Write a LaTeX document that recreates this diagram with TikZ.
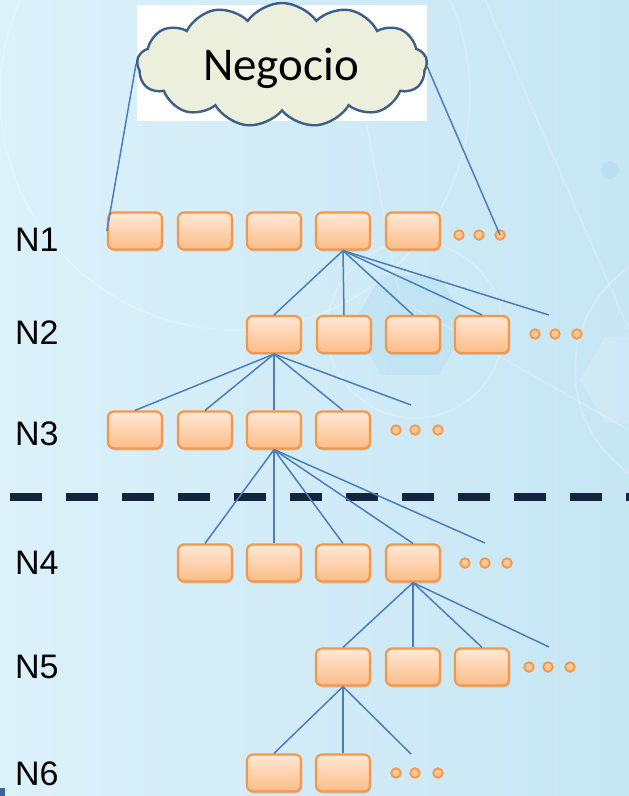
\documentclass[tikz,border=0pt]{standalone}
\usepackage{fontspec}
\setmainfont{Liberation Sans}
\newfontfamily\cloudfont{Carlito}
\usetikzlibrary{shapes.symbols,shapes.geometric,shadows}
\definecolor{bgA}{HTML}{DCF1FA}
\definecolor{bgB}{HTML}{C6E6F4}
\definecolor{boxline}{HTML}{F79646}
\definecolor{boxtop}{HTML}{FFE8D6}
\definecolor{boxbot}{HTML}{FCBD88}
\definecolor{dotfill}{HTML}{FCC896}
\definecolor{conn}{HTML}{4A7EBB}
\definecolor{dashc}{HTML}{13253D}
\definecolor{cloudfill}{HTML}{EBEFDC}
\definecolor{cloudline}{HTML}{3D5E87}
\definecolor{hexc}{HTML}{B3DDF1}
\tikzset{
  x=1pt,y=-1pt,
  boxnode/.style={rectangle,rounded corners=6pt,draw=boxline,line width=2.2pt,
    top color=boxtop,bottom color=boxbot,minimum width=54pt,minimum height=37pt,
    inner sep=0pt,drop shadow={shadow xshift=1pt,shadow yshift=-2pt,opacity=0.25}},
  dotnode/.style={circle,draw=boxline,line width=1.8pt,fill=dotfill,inner sep=0pt,minimum size=9.5pt},
  conn/.style={draw=conn,line width=1.5pt},
  lvl/.style={font=\fontsize{34}{34}\selectfont,inner sep=0pt,anchor=west,text=black},
  deco/.style={white,opacity=0.2,line width=2pt}
}
\begin{document}
\begin{tikzpicture}
% background
\shade[left color=bgA,right color=bgB] (0,0) rectangle (629,796);
\useasboundingbox (0,0) rectangle (629,796);
% faint decorations
\begin{scope}
\clip (0,0) rectangle (629,796);
\draw[deco] (235,95) circle (235);
\draw[deco] (415,330) circle (88);
\node[regular polygon,regular polygon sides=6,minimum size=115pt,fill=hexc,opacity=0.45] (hx) at (410,325) {};
\draw[deco] (700,370) circle (125);
\node[regular polygon,regular polygon sides=6,minimum size=100pt,fill=white,opacity=0.15] (hx2) at (630,380) {};
\fill[hexc,opacity=0.6] (610,170) circle (9);
\draw[deco] (485,0) -- (629,330);
\draw[deco,line width=1.5pt] (360,90) -- (400,300) -- (629,430);
\end{scope}
\fill[conn!80!black] (0,788) rectangle (5,796);
% cloud
\fill[white] (137,5) rectangle (427,121);
\node[cloud,cloud puffs=13,cloud puff arc=110,aspect=2.6,draw=cloudline,fill=cloudfill,line width=2.4pt,
  minimum width=290pt,minimum height=124pt,inner sep=0pt] (cloud) at (282,65) {};
\node[font=\cloudfont\fontsize{47}{47}\selectfont,inner sep=0pt] (neg) at (281,68) {Negocio};
\coordinate (cl) at (136,64);
\coordinate (cr) at (427,66);
% level labels
\node[lvl] (L1) at (15,240) {N1};
\node[lvl] (L2) at (15,333) {N2};
\node[lvl] (L3) at (15,434) {N3};
\node[lvl] (L4) at (15,563) {N4};
\node[lvl] (L5) at (15,667) {N5};
\node[lvl] (L6) at (15,774) {N6};
% dashed line
\draw[dashc,line width=8pt,dash pattern=on 32pt off 24pt] (10,497) -- (640,497);
% row N1
\foreach \i/\x in {1/135,2/205,3/274,4/343,5/413} \node[boxnode] (a\i) at (\x,231) {};
\foreach \i/\x in {1/459,2/479,3/500} \node[dotnode] (ad\i) at (\x,235) {};
% row N2
\foreach \i/\x in {1/274,2/344,3/413,4/482} \node[boxnode] (b\i) at (\x,334.5) {};
\foreach \i/\x in {1/535,2/555,3/577} \node[dotnode] (bd\i) at (\x,334) {};
% row N3
\foreach \i/\x in {1/135,2/205,3/274,4/343} \node[boxnode] (c\i) at (\x,430) {};
\foreach \i/\x in {1/396,2/415,3/438} \node[dotnode] (cd\i) at (\x,430) {};
% row N4
\foreach \i/\x in {1/205,2/274,3/343,4/413} \node[boxnode] (d\i) at (\x,563) {};
\foreach \i/\x in {1/465,2/485,3/507} \node[dotnode] (dd\i) at (\x,563) {};
% row N5
\foreach \i/\x in {1/343,2/413,3/482} \node[boxnode] (e\i) at (\x,667) {};
\foreach \i/\x in {1/529,2/548,3/570} \node[dotnode] (ed\i) at (\x,667) {};
% row N6
\foreach \i/\x in {1/274,2/343} \node[boxnode] (f\i) at (\x,773) {};
\foreach \i/\x in {1/396,2/415,3/438} \node[dotnode] (fd\i) at (\x,773) {};
% free ends
\coordinate (bx) at (549,315);
\coordinate (cx) at (411,405);
\coordinate (dx) at (485,543);
\coordinate (ex) at (549,647);
\coordinate (fx) at (411,754);
% connectors
\draw[conn] (cl) -- (a1.west);
\draw[conn] (cr) -- (ad3.center);
\foreach \t in {b1,b2,b3,b4} \draw[conn] (a4.south) -- (\t.north);
\draw[conn] (a4.south) -- (bx);
\foreach \t in {c1,c2,c3,c4} \draw[conn] (b1.south) -- (\t.north);
\draw[conn] (b1.south) -- (cx);
\foreach \t in {d1,d2,d3,d4} \draw[conn] (c3.south) -- (\t.north);
\draw[conn] (c3.south) -- (dx);
\foreach \t in {e1,e2,e3} \draw[conn] (d4.south) -- (\t.north);
\draw[conn] (d4.south) -- (ex);
\foreach \t in {f1,f2} \draw[conn] (e1.south) -- (\t.north);
\draw[conn] (e1.south) -- (fx);
\end{tikzpicture}
\end{document}
